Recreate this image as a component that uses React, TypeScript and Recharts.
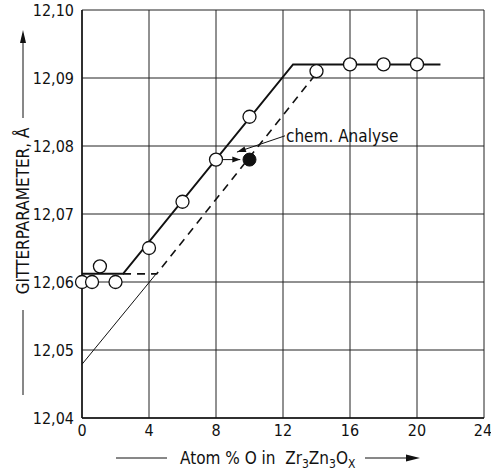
import React from 'react';
import { ComposedChart, Line, Scatter, XAxis, YAxis, CartesianGrid, ReferenceLine } from 'recharts';

const FONT = "'Liberation Sans Narrow', 'DejaVu Sans Condensed', 'Roboto', sans-serif";

// measured lattice parameters (open circles)
const openX = [0, 0.6, 1.07, 2, 4, 6, 8, 10, 14, 16, 18, 20];
const openY = [12.06, 12.06, 12.0623, 12.06, 12.065, 12.0718, 12.078, 12.0843, 12.091, 12.092, 12.092, 12.092];

// chemical analysis (filled point)
const chemX = [10];
const chemY = [12.078];

// solid curve
const solidX = [0, 2.45, 12.6, 21.4];
const solidY = [12.0612, 12.0612, 12.092, 12.092];

// dashed curve
const dashX = [2.45, 4.46, 13.9];
const dashY = [12.0612, 12.0612, 12.0904];

// thin extrapolation
const thinX = [0, 4.46];
const thinY = [12.0479, 12.0613];

const xTicks = [0, 4, 8, 12, 16, 20, 24];
const xMinor = [2, 6, 10, 14, 18, 22];
const yTicks = [12.04, 12.05, 12.06, 12.07, 12.08, 12.09, 12.1];
const yMinor = [12.045, 12.055, 12.065, 12.075, 12.085, 12.095];

const zip = (xs: number[], ys: number[]) => xs.map((x, i) => ({ x, y: ys[i] }));

const openPts = zip(openX, openY);
const chemPts = zip(chemX, chemY);
const solidPts = zip(solidX, solidY);
const dashPts = zip(dashX, dashY);
const thinPts = zip(thinX, thinY);

function arrowHead(x1: number, y1: number, x2: number, y2: number, len = 9, half = 3) {
  const a = Math.atan2(y2 - y1, x2 - x1);
  const bx = x2 - len * Math.cos(a);
  const by = y2 - len * Math.sin(a);
  const px = -Math.sin(a) * half;
  const py = Math.cos(a) * half;
  return `${x2},${y2} ${bx + px},${by + py} ${bx - px},${by - py}`;
}

const OpenDot = (p: any) => <circle cx={p.cx} cy={p.cy} r={6.5} fill="#fff" stroke="#111" strokeWidth={1.3} />;
const FilledDot = (p: any) => <circle cx={p.cx} cy={p.cy} r={6.5} fill="#111" stroke="#111" />;

const LeaderShape = (p: any) => {
  const { x1, y1, x2, y2 } = p;
  return (
    <g>
      <line x1={x1} y1={y1} x2={x2} y2={y2} stroke="#111" strokeWidth={1} />
      <polygon points={arrowHead(x1, y1, x2, y2)} fill="#111" />
      <text x={x1 + 1} y={y1 + 6} fontSize={17} fontFamily={FONT} fill="#111">chem. Analyse</text>
    </g>
  );
};

const ArrowShape = (p: any) => {
  const { x1, y1, x2, y2 } = p;
  return (
    <g>
      <line x1={x1} y1={y1} x2={x2} y2={y2} stroke="#111" strokeWidth={1} />
      <polygon points={arrowHead(x1, y1, x2, y2, 8, 3)} fill="#111" />
    </g>
  );
};

const XLabel = ({ viewBox }: any) => {
  const { x, y } = viewBox;
  const ly = y + 40;
  return (
    <g fill="#111" fontFamily={FONT} fontSize={17}>
      <line x1={x + 34} y1={ly} x2={x + 85} y2={ly} stroke="#111" />
      <text x={x + 98} y={ly + 6} xmlSpace="preserve">
        {'Atom % O in  Zr'}
        <tspan fontSize={12} dy={4}>3</tspan>
        <tspan dy={-4}>Zn</tspan>
        <tspan fontSize={12} dy={4}>3</tspan>
        <tspan dy={-4}>O</tspan>
        <tspan fontSize={12} dy={4}>X</tspan>
      </text>
      <line x1={x + 283} y1={ly} x2={x + 330} y2={ly} stroke="#111" />
      <polygon points={arrowHead(x + 283, ly, x + 338, ly, 14, 3.5)} />
    </g>
  );
};

const YLabel = ({ viewBox }: any) => {
  const { x, y, height } = viewBox;
  const cx = x + 13;
  const cy = y + height / 2 - 3;
  return (
    <g fill="#111" fontFamily={FONT} fontSize={17}>
      <line x1={cx} y1={cy + 99} x2={cx} y2={cy + 184} stroke="#111" />
      <text x={cx} y={cy} transform={`rotate(-90 ${cx} ${cy})`} textAnchor="middle" dominantBaseline="central">
        GITTERPARAMETER, Å
      </text>
      <line x1={cx} y1={cy - 93} x2={cx} y2={cy - 170} stroke="#111" />
      <polygon points={arrowHead(cx, cy - 93, cx, cy - 181, 13, 3)} />
    </g>
  );
};

const fmtY = (v: number) => v.toFixed(2).replace('.', ',');

export default function App() {
  const tickStyle = { fill: '#111', fontSize: 16, fontFamily: FONT };
  return (
    <div style={{ position: 'absolute', left: 0, top: 0, width: 491, height: 473, background: '#fff' }}>
      <ComposedChart width={491} height={473} margin={{ top: 10, right: 7, bottom: 25, left: 10 }}>
        <CartesianGrid xAxisId="b" yAxisId="l" stroke="#222" strokeWidth={1} />
        <XAxis xAxisId="b" dataKey="x" type="number" domain={[0, 24]} ticks={xTicks}
          height={30} tickLine={false} tickSize={6} tickMargin={1} axisLine={{ stroke: '#111', strokeWidth: 1.5 }}
          tick={tickStyle} label={<XLabel />} />
        <XAxis xAxisId="bm" dataKey="x" type="number" domain={[0, 24]} ticks={xMinor} mirror height={0}
          tick={false} tickSize={5} axisLine={false} tickLine={{ stroke: '#111' }} />
        <XAxis xAxisId="t" orientation="top" dataKey="x" type="number" domain={[0, 24]} ticks={xMinor} mirror height={0}
          tick={false} tickSize={5} axisLine={{ stroke: '#111', strokeWidth: 1.5 }} tickLine={{ stroke: '#111' }} />
        <YAxis yAxisId="l" dataKey="y" type="number" domain={[12.04, 12.1]} ticks={yTicks}
          width={72} tickLine={false} tickSize={6} tickMargin={2} tickFormatter={fmtY}
          axisLine={{ stroke: '#111', strokeWidth: 1.5 }} tick={tickStyle} label={<YLabel />} />
        <YAxis yAxisId="lm" dataKey="y" type="number" domain={[12.04, 12.1]} ticks={yMinor} mirror width={0}
          tick={false} tickSize={5} axisLine={false} tickLine={{ stroke: '#111' }} />
        <YAxis yAxisId="r" orientation="right" dataKey="y" type="number" domain={[12.04, 12.1]} ticks={yMinor} mirror width={0}
          tick={false} tickSize={5} axisLine={{ stroke: '#111', strokeWidth: 1.5 }} tickLine={{ stroke: '#111' }} />

        <Line xAxisId="b" yAxisId="l" data={thinPts} dataKey="y" type="linear" stroke="#111" strokeWidth={1}
          dot={false} activeDot={false} isAnimationActive={false} />
        <Line xAxisId="b" yAxisId="l" data={dashPts} dataKey="y" type="linear" stroke="#111" strokeWidth={1.6}
          strokeDasharray="8 6" dot={false} activeDot={false} isAnimationActive={false} />
        <Line xAxisId="b" yAxisId="l" data={solidPts} dataKey="y" type="linear" stroke="#111" strokeWidth={2}
          dot={false} activeDot={false} isAnimationActive={false} />

        <ReferenceLine xAxisId="b" yAxisId="l" segment={[{ x: 12.12, y: 12.0815 }, { x: 9.25, y: 12.0791 }]}
          shape={<LeaderShape />} />
        <ReferenceLine xAxisId="b" yAxisId="l" segment={[{ x: 8.42, y: 12.078 }, { x: 9.45, y: 12.078 }]}
          shape={<ArrowShape />} />

        <Scatter xAxisId="b" yAxisId="l" data={openPts} dataKey="y" shape={<OpenDot />} isAnimationActive={false} />
        <Scatter xAxisId="b" yAxisId="l" data={chemPts} dataKey="y" shape={<FilledDot />} isAnimationActive={false} />
      </ComposedChart>
    </div>
  );
}
